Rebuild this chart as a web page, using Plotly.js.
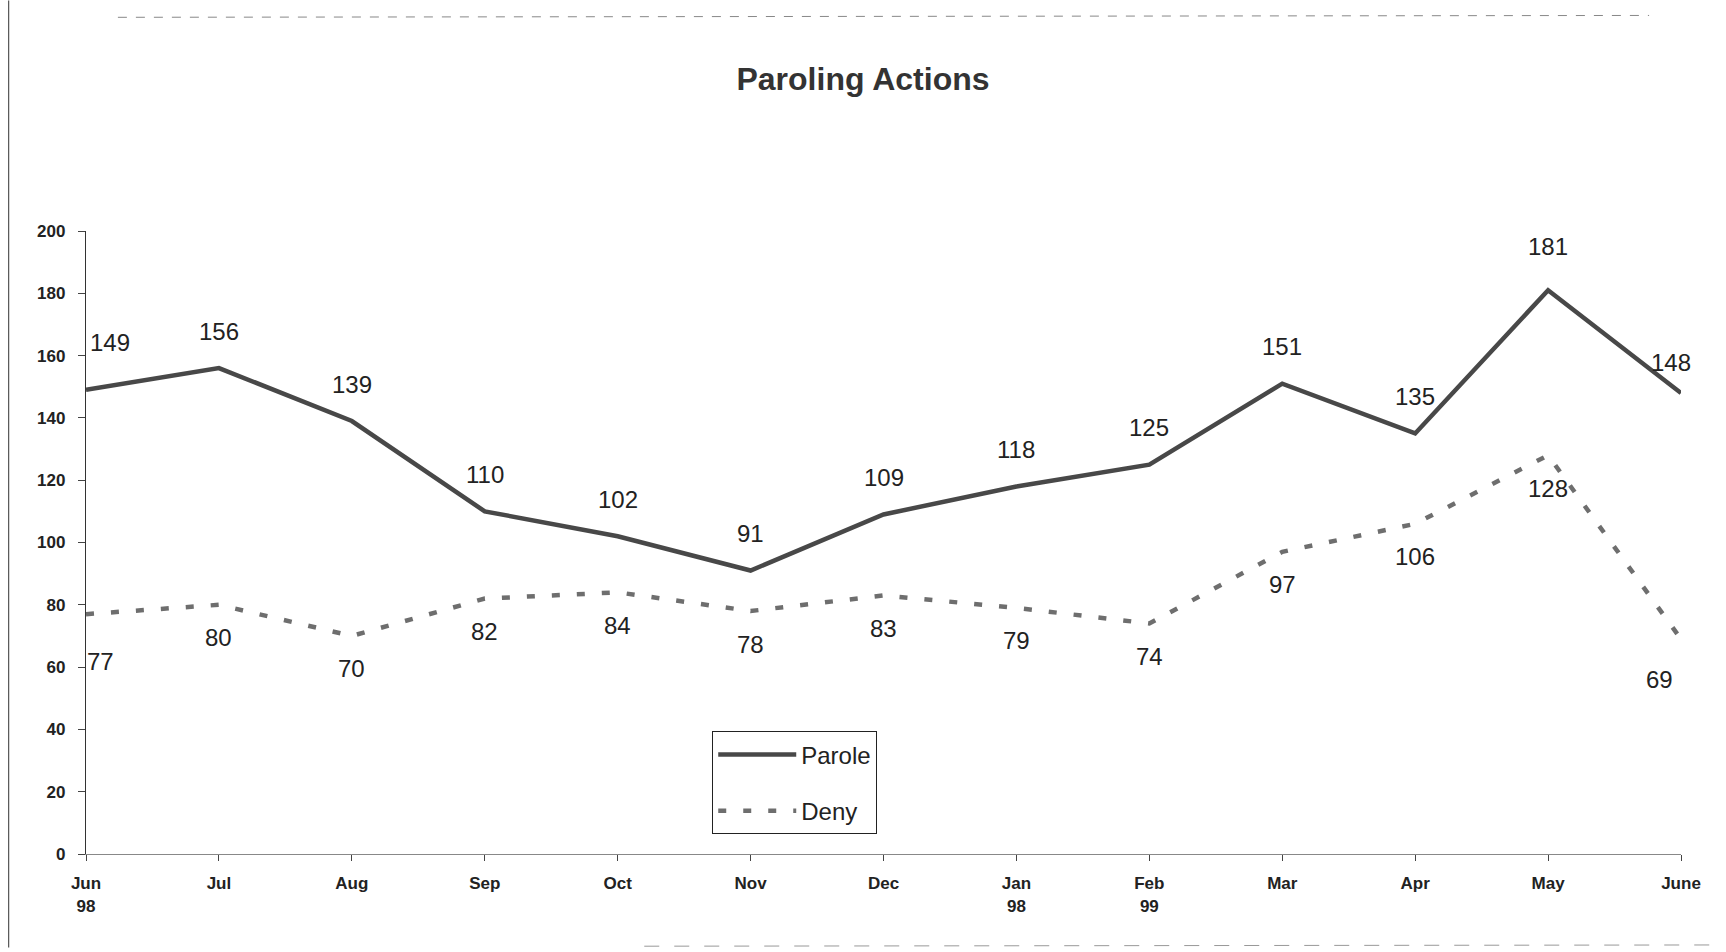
<!DOCTYPE html>
<html>
<head>
<meta charset="utf-8">
<script src="https://cdn.plot.ly/plotly-3.0.1.min.js"></script>
<style>html,body{margin:0;padding:0;background:#fff;}#chart{width:1726px;height:952px;}</style>
</head>
<body>
<div id="chart"></div>
<script>
const months = ["Jun<br>98","Jul","Aug","Sep","Oct","Nov","Dec","Jan<br>98","Feb<br>99","Mar","Apr","May","June"];
const parole = [149,156,139,110,102,91,109,118,125,151,135,181,148];
const deny = [77,80,70,82,84,78,83,79,74,97,106,128,69];
const yTicks = [0,20,40,60,80,100,120,140,160,180,200];

const xIdx = months.map((m,i)=>i);
const font = "Liberation Sans, Arial, sans-serif";

const traces = [
  {x:xIdx, y:parole, name:"Parole", mode:"lines", legendgroup:"p",
   line:{color:"#484848", width:4.5}, hoverinfo:"skip"},
  {x:xIdx, y:deny, name:"Deny", mode:"lines", legendgroup:"d",
   line:{color:"#6e6e6e", width:4.5, dash:"8px,17px"}, hoverinfo:"skip"}
];

const annotations = [];
parole.forEach((v,i)=>{
  let xs = 0, ys = 37;
  if(i===0){xs=24; ys=47;}
  if(i===11){ys=44;}
  if(i===12){xs=-10; ys=30;}
  annotations.push({x:i, y:v, xref:"x", yref:"y", text:String(v), showarrow:false,
    xshift:xs, yshift:ys, font:{family:font, size:24, color:"#222"}});
});
deny.forEach((v,i)=>{
  let xs = 0, ys = -33;
  if(i===0){xs=14; ys=-47;}
  if(i===12){xs=-22; ys=-40;}
  annotations.push({x:i, y:v, xref:"x", yref:"y", text:String(v), showarrow:false,
    xshift:xs, yshift:ys, font:{family:font, size:24, color:"#222"}});
});

const layout = {
  width:1726, height:952,
  margin:{l:86, r:45, t:231, b:98},
  paper_bgcolor:"#fff", plot_bgcolor:"#fff",
  title:{text:"<b>Paroling Actions</b>", x:0.5, xanchor:"center", y:0.917, yanchor:"middle",
    font:{family:font, size:32, color:"#333"}},
  showlegend:true,
  legend:{x:0.3925, y:0.197, xanchor:"left", yanchor:"top",
    bgcolor:"#fff", bordercolor:"#222", borderwidth:1.2,
    font:{family:font, size:24, color:"#222"},
    traceorder:"grouped", tracegroupgap:22, itemwidth:78},
  xaxis:{range:[0,12], tickmode:"array", tickvals:xIdx, ticktext:months,
    showgrid:false, zeroline:false, showline:true, linecolor:"#888", linewidth:1,
    ticks:"outside", ticklen:6, tickcolor:"#444", ticklabelstandoff:8,
    tickfont:{family:font, size:17, color:"#222", weight:"bold"}, fixedrange:true},
  yaxis:{range:[0,200], tickmode:"array", tickvals:yTicks,
    showgrid:false, zeroline:false, showline:true, linecolor:"#333", linewidth:1.2,
    ticks:"outside", ticklen:7, tickcolor:"#444", ticklabelstandoff:9,
    tickfont:{family:font, size:17, color:"#222", weight:"bold"}, fixedrange:true},
  annotations:annotations,
  shapes:[
    {type:"line", xref:"paper", yref:"paper", x0:-0.0485, x1:-0.0485, y0:1.37, y1:-0.15,
     line:{color:"#555", width:1.2}},
    {type:"line", xref:"paper", yref:"paper", x0:0.02, x1:0.98, y0:1.343, y1:1.346,
     line:{color:"#888", width:1, dash:"dash"}},
    {type:"line", xref:"paper", yref:"paper", x0:0.35, x1:1.02, y0:-0.148, y1:-0.146,
     line:{color:"#999", width:1, dash:"longdash"}}
  ]
};

Plotly.newPlot("chart", traces, layout, {staticPlot:true, displayModeBar:false});
</script>
</body>
</html>
